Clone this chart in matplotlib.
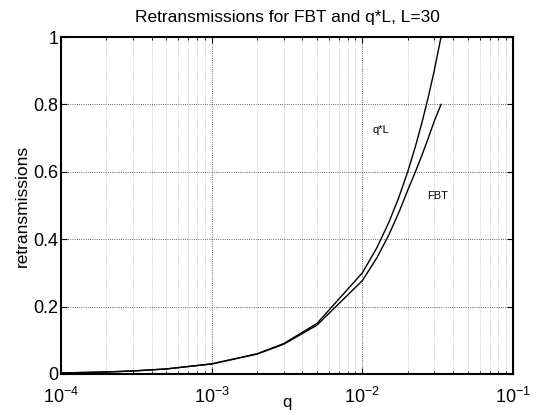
import numpy as np
import matplotlib
matplotlib.use('Agg')
import matplotlib.pyplot as plt
from matplotlib.ticker import LogLocator, NullFormatter

plt.rcParams['font.family'] = ['Liberation Sans', 'DejaVu Sans']

# Data (L = 30)
q = [1e-4, 2e-4, 3e-4, 5e-4, 1e-3, 2e-3, 3e-3, 5e-3, 1e-2,
     0.0125, 0.015, 0.0175, 0.02, 0.0225, 0.025, 0.0275, 0.03, 0.0333]
qL = [0.003, 0.006, 0.009, 0.015, 0.03, 0.06, 0.09, 0.15, 0.30,
      0.375, 0.45, 0.525, 0.60, 0.675, 0.75, 0.825, 0.90, 1.0]
fbt = [0.003, 0.006, 0.009, 0.015, 0.0298, 0.059, 0.088, 0.145, 0.277,
       0.345, 0.413, 0.48, 0.545, 0.600, 0.652, 0.702, 0.75, 0.80]

fig = plt.figure(figsize=(5.37, 4.15), dpi=100)
ax = fig.add_axes([0.1136, 0.0988, 0.8417, 0.812])

ax.semilogx(q, qL, color='black', linewidth=1.0)
ax.semilogx(q, fbt, color='black', linewidth=1.0)

ax.text(0.0117, 0.724, 'q*L', fontsize=8, va='center', ha='left')
ax.text(0.027, 0.529, 'FBT', fontsize=8, va='center', ha='left')

ax.set_xlim(1e-4, 1e-1)
ax.set_ylim(0, 1)
ax.set_yticks([0, 0.2, 0.4, 0.6, 0.8, 1])
ax.set_yticklabels(['0', '0.2', '0.4', '0.6', '0.8', '1'])
ax.xaxis.set_major_locator(LogLocator(base=10, numticks=10))
ax.xaxis.set_minor_locator(LogLocator(base=10, subs=np.arange(2, 10), numticks=20))
ax.xaxis.set_minor_formatter(NullFormatter())

ax.grid(True, which='major', linestyle=':', color='black', linewidth=0.6, alpha=0.8)
ax.grid(True, which='minor', axis='x', linestyle=':', color='gray', linewidth=0.5, alpha=0.7)

ax.tick_params(which='both', direction='in', top=True, right=True, labelsize=13)
ax.tick_params(axis='x', which='major', pad=9)
ax.tick_params(axis='y', which='major', pad=2)
ax.tick_params(which='major', length=4)
ax.tick_params(which='minor', length=2)
for s in ax.spines.values():
    s.set_linewidth(1.5)

ax.set_title('Retransmissions for FBT and q*L, L=30', fontsize=12.5, pad=11)
ax.set_xlabel('q', fontsize=12, labelpad=-8)
ax.set_ylabel('retransmissions', fontsize=12.5, labelpad=2)

fig.savefig('out.png', dpi=100)
